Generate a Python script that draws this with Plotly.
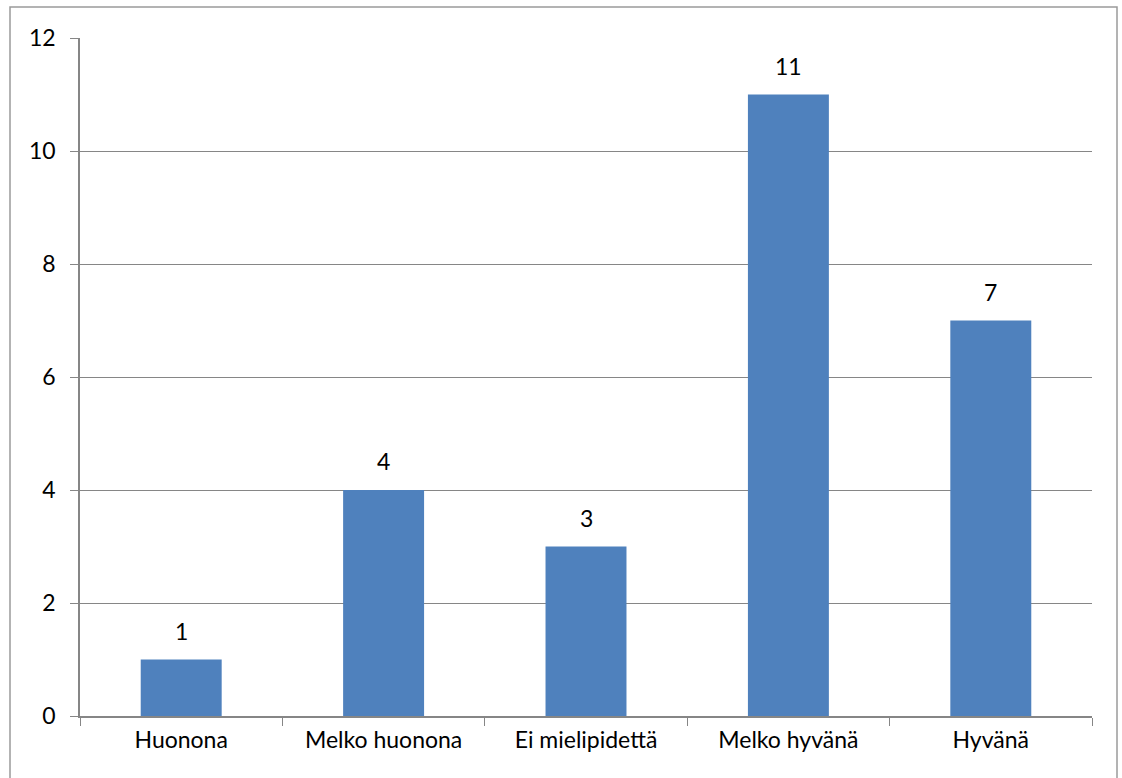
import plotly.graph_objects as go

categories = ["Huonona", "Melko huonona", "Ei mielipidettä", "Melko hyvänä", "Hyvänä"]
counts = [1, 4, 3, 11, 7]
y_ticks = [0, 2, 4, 6, 8, 10, 12]

FONT = "Lato, Calibri, 'Open Sans', sans-serif"
AXIS_GREY = "#868686"
FS = 23

fig = go.Figure(
    go.Bar(
        x=categories,
        y=counts,
        marker=dict(color="#4F81BD", line=dict(width=0)),
        hoverinfo="x+y",
    )
)

# Value labels sitting above each bar
for cat, val in zip(categories, counts):
    fig.add_annotation(
        x=cat, y=val, text=str(val),
        showarrow=False, yanchor="bottom", yshift=13,
        font=dict(family=FONT, size=FS, color="#000000"),
    )

fig.update_layout(
    width=1122,
    height=778,
    margin=dict(l=80, r=30, t=38, b=62),
    paper_bgcolor="white",
    plot_bgcolor="white",
    bargap=0.6,
    showlegend=False,
    font=dict(family=FONT, size=FS, color="#000000"),
)

fig.update_xaxes(
    showline=True,
    linecolor=AXIS_GREY,
    linewidth=1.5,
    ticks="outside",
    ticklen=8,
    tickcolor=AXIS_GREY,
    tickson="boundaries",
    showgrid=False,
    tickfont=dict(family=FONT, size=FS),
    ticklabelstandoff=3,
)

fig.update_yaxes(
    range=[0, 12],
    tickvals=y_ticks,
    showline=True,
    linecolor=AXIS_GREY,
    linewidth=1.5,
    ticks="outside",
    ticklen=8,
    tickcolor=AXIS_GREY,
    showgrid=True,
    gridcolor=AXIS_GREY,
    gridwidth=1,
    zeroline=False,
    tickfont=dict(family=FONT, size=FS),
    ticklabelstandoff=10,
)

# Outer chart frame
fig.add_shape(
    type="rect",
    xref="paper", yref="paper",
    x0=(10 - 80) / 1012, x1=(1117 - 80) / 1012,
    y0=-0.12, y1=(716 - 7) / 678,
    line=dict(color="#9a9a9a", width=1.5),
    fillcolor="rgba(0,0,0,0)",
    layer="below",
)

fig.write_html("out.html")
